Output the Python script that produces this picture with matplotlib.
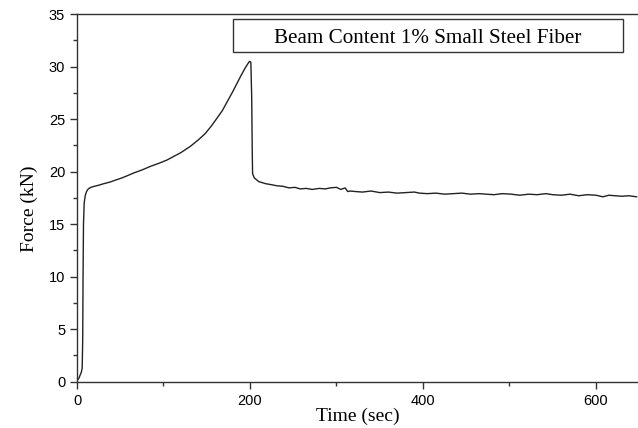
import matplotlib
matplotlib.use('Agg')
import matplotlib.pyplot as plt
from matplotlib.patches import Rectangle
from matplotlib.ticker import MultipleLocator

# force-time record (sec, kN)
time = [0, 2, 3.5, 5, 6, 6.6, 7.0, 7.5, 8.3, 9.5, 11, 13, 16, 20, 25, 31, 38,
        45, 52, 58, 65, 75, 85, 95, 104, 112, 120, 131, 140, 148, 155, 162,
        168, 174, 180, 185, 190, 194, 197, 199.5, 201, 202, 202.6, 203, 205,
        210, 218, 225, 231, 238, 245, 252, 258, 265, 272, 280, 287, 293, 300,
        305, 310, 313, 316, 322, 330, 340, 350, 360, 370, 380, 390, 396, 405,
        415, 425, 435, 445, 455, 465, 473, 482, 492, 502, 512, 522, 532, 542,
        550, 560, 570, 580, 590, 600, 608, 615, 622, 630, 638, 647]
force = [0.1, 0.3, 0.6, 0.9, 1.3, 4.0, 10.0, 15.0, 17.0, 17.7, 18.1, 18.35,
         18.5, 18.6, 18.7, 18.85, 19.0, 19.2, 19.4, 19.6, 19.85, 20.15, 20.5,
         20.8, 21.1, 21.45, 21.8, 22.4, 23.0, 23.6, 24.3, 25.1, 25.8, 26.7,
         27.6, 28.4, 29.2, 29.8, 30.2, 30.5, 30.4, 27.0, 22.0, 19.8, 19.4,
         19.05, 18.85, 18.75, 18.65, 18.6, 18.45, 18.5, 18.35, 18.4, 18.3,
         18.4, 18.35, 18.45, 18.5, 18.3, 18.45, 18.1, 18.15, 18.1, 18.05,
         18.15, 18.0, 18.05, 17.95, 18.0, 18.05, 17.95, 17.9, 17.95, 17.85,
         17.9, 17.95, 17.85, 17.9, 17.85, 17.8, 17.9, 17.85, 17.75, 17.85, 17.8,
         17.9, 17.8, 17.75, 17.85, 17.7, 17.8, 17.75, 17.6, 17.75, 17.7, 17.65,
         17.7, 17.6]

label = 'Beam Content 1% Small Steel Fiber'

fig = plt.figure(figsize=(6.38, 4.28), dpi=100)
ax = fig.add_axes([77/638, 46.3/428, 561/638, 367.7/428])
ax.plot(time, force, color='#222222', lw=1.0)

ax.set_xlim(0, 648.6)
ax.set_ylim(0, 35)
ax.xaxis.set_major_locator(MultipleLocator(200))
ax.xaxis.set_minor_locator(MultipleLocator(100))
ax.yaxis.set_major_locator(MultipleLocator(5))
ax.yaxis.set_minor_locator(MultipleLocator(2.5))
ax.tick_params(which='both', direction='out', top=False, right=False,
               labelsize=10.5, color='#333333', width=1.0)
ax.tick_params(which='major', length=5)
ax.tick_params(which='minor', length=3)
for lab in ax.get_xticklabels() + ax.get_yticklabels():
    lab.set_fontfamily('Liberation Sans')
ax.spines['right'].set_visible(False)
for s in ['left', 'bottom', 'top']:
    ax.spines[s].set_color('#333333')
    ax.spines[s].set_linewidth(1.0)

ax.set_xlabel('Time (sec)', family='Liberation Serif', fontsize=14, labelpad=0)
ax.set_ylabel('Force (kN)', family='Liberation Serif', fontsize=14)
ax.yaxis.set_label_coords((38 - 77) / 561, (381.7 - 209) / 367.7)

# legend-style label box
x0 = (233 - 77) / 561
x1 = (623 - 77) / 561
y0 = (381.7 - 52.3) / 367.7
y1 = (381.7 - 19.3) / 367.7
ax.add_patch(Rectangle((x0, y0), x1 - x0, y1 - y0, transform=ax.transAxes,
                       fill=False, ec='#333333', lw=1.0))
ax.text((x0 + x1) / 2, (381.7 - 43.3) / 367.7, label, transform=ax.transAxes,
        family='Liberation Serif', fontsize=15.2, ha='center', va='baseline')

fig.savefig('out.png', dpi=100)
